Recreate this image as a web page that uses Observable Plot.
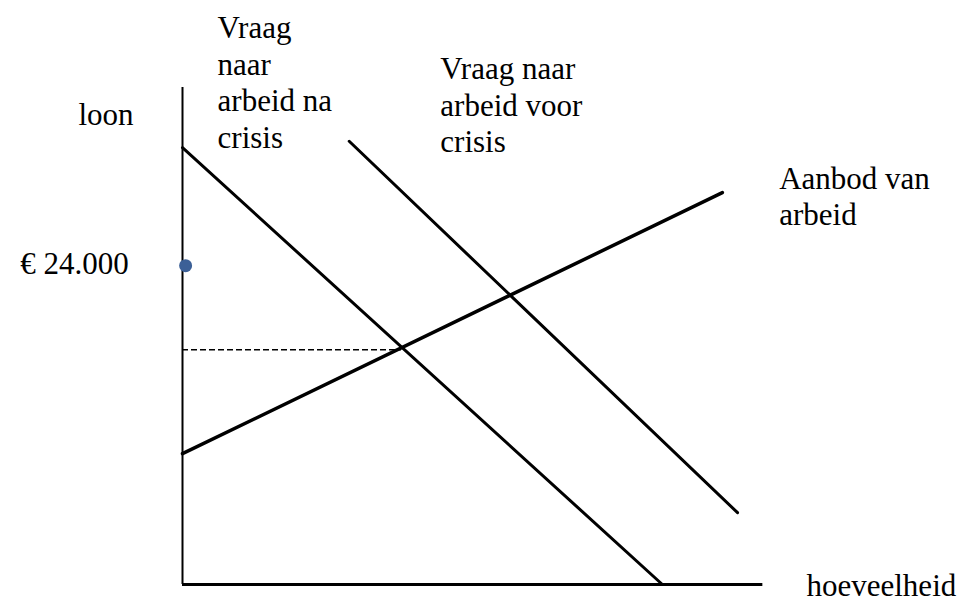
<!DOCTYPE html>
<html>
<head>
<meta charset="utf-8">
<script src="https://cdn.jsdelivr.net/npm/d3@7"></script>
<script src="https://cdn.jsdelivr.net/npm/@observablehq/plot@0.6"></script>
<style>
  html, body { margin: 0; padding: 0; background: #fff; }
  svg { overflow: visible; display: block; }
  svg, svg text, svg tspan { font-family: "Liberation Serif", "Times New Roman", "DejaVu Serif", serif !important; }
</style>
</head>
<body>
<div id="chart"></div>
<script>
// Quantity (hoeveelheid) and wage (loon) in chart units
const qAxis = [0, 74.5];
const wAxis = [0, 85.1];

const qDemandAfter = [0, 61.6];
const wDemandAfter = [74.8, 0];

const qDemandBefore = [21.4, 71.25];
const wDemandBefore = [75.9, 12.3];

const qSupply = [0, 69.3];
const wSupply = [22.4, 67.1];

const qEquilibrium = 28.1;
const wEquilibrium = 40.2;

const wMarked = 54.6;
const qMarked = 0.4;

const labelTexts = [
  "Vraag\nnaar\narbeid na\ncrisis",
  "Vraag naar\narbeid voor\ncrisis",
  "Aanbod van\narbeid",
  "loon",
  "hoeveelheid"
];
const labelQ = [4.5, 33.1, 76.6, -13.35, 80.1];
const labelW = [74.8, 74.0, 61.5, 78.6, -2.05];

const priceLabel = "€ 24.000";
const priceLabelQ = -6.9;
const priceLabelW = 53.25;

const seg = (qs, ws) => qs.map((q, i) => ({q, w: ws[i]}));
const labels = labelTexts.map((t, i) => ({t, q: labelQ[i], w: labelW[i]}));

const font = "Liberation Serif";

const chart = Plot.plot({
  width: 961,
  height: 603,
  marginLeft: 182,
  marginRight: 0,
  marginTop: 0,
  marginBottom: 19,
  x: {domain: [0, 100], axis: null},
  y: {domain: [0, 100], axis: null},
  style: {fontFamily: font, background: "white", overflow: "visible"},
  marks: [
    Plot.ruleX([0], {y1: wAxis[0], y2: wAxis[1], stroke: "black", strokeWidth: 2}),
    Plot.ruleY([0], {x1: qAxis[0], x2: qAxis[1], stroke: "black", strokeWidth: 3}),
    Plot.ruleY([wEquilibrium], {x1: 0, x2: qEquilibrium, stroke: "black", strokeWidth: 1.5, strokeDasharray: "6,3"}),
    Plot.line(seg(qDemandAfter, wDemandAfter), {x: "q", y: "w", stroke: "black", strokeWidth: 3}),
    Plot.line(seg(qDemandBefore, wDemandBefore), {x: "q", y: "w", stroke: "black", strokeWidth: 3}),
    Plot.line(seg(qSupply, wSupply), {x: "q", y: "w", stroke: "black", strokeWidth: 3.5}),
    Plot.dot([{q: qMarked, w: wMarked}], {x: "q", y: "w", r: 6.5, fill: "#3c6097", stroke: "none"}),
    Plot.text(labels, {x: "q", y: "w", text: "t", textAnchor: "start", lineAnchor: "bottom", lineHeight: 1.18, fontSize: 31, fill: "black", fontFamily: font}),
    Plot.text([{t: priceLabel, q: priceLabelQ, w: priceLabelW}], {x: "q", y: "w", text: "t", textAnchor: "end", lineAnchor: "bottom", fontSize: 31, fill: "black", fontFamily: font})
  ]
});
document.getElementById("chart").append(chart);
</script>
</body>
</html>
